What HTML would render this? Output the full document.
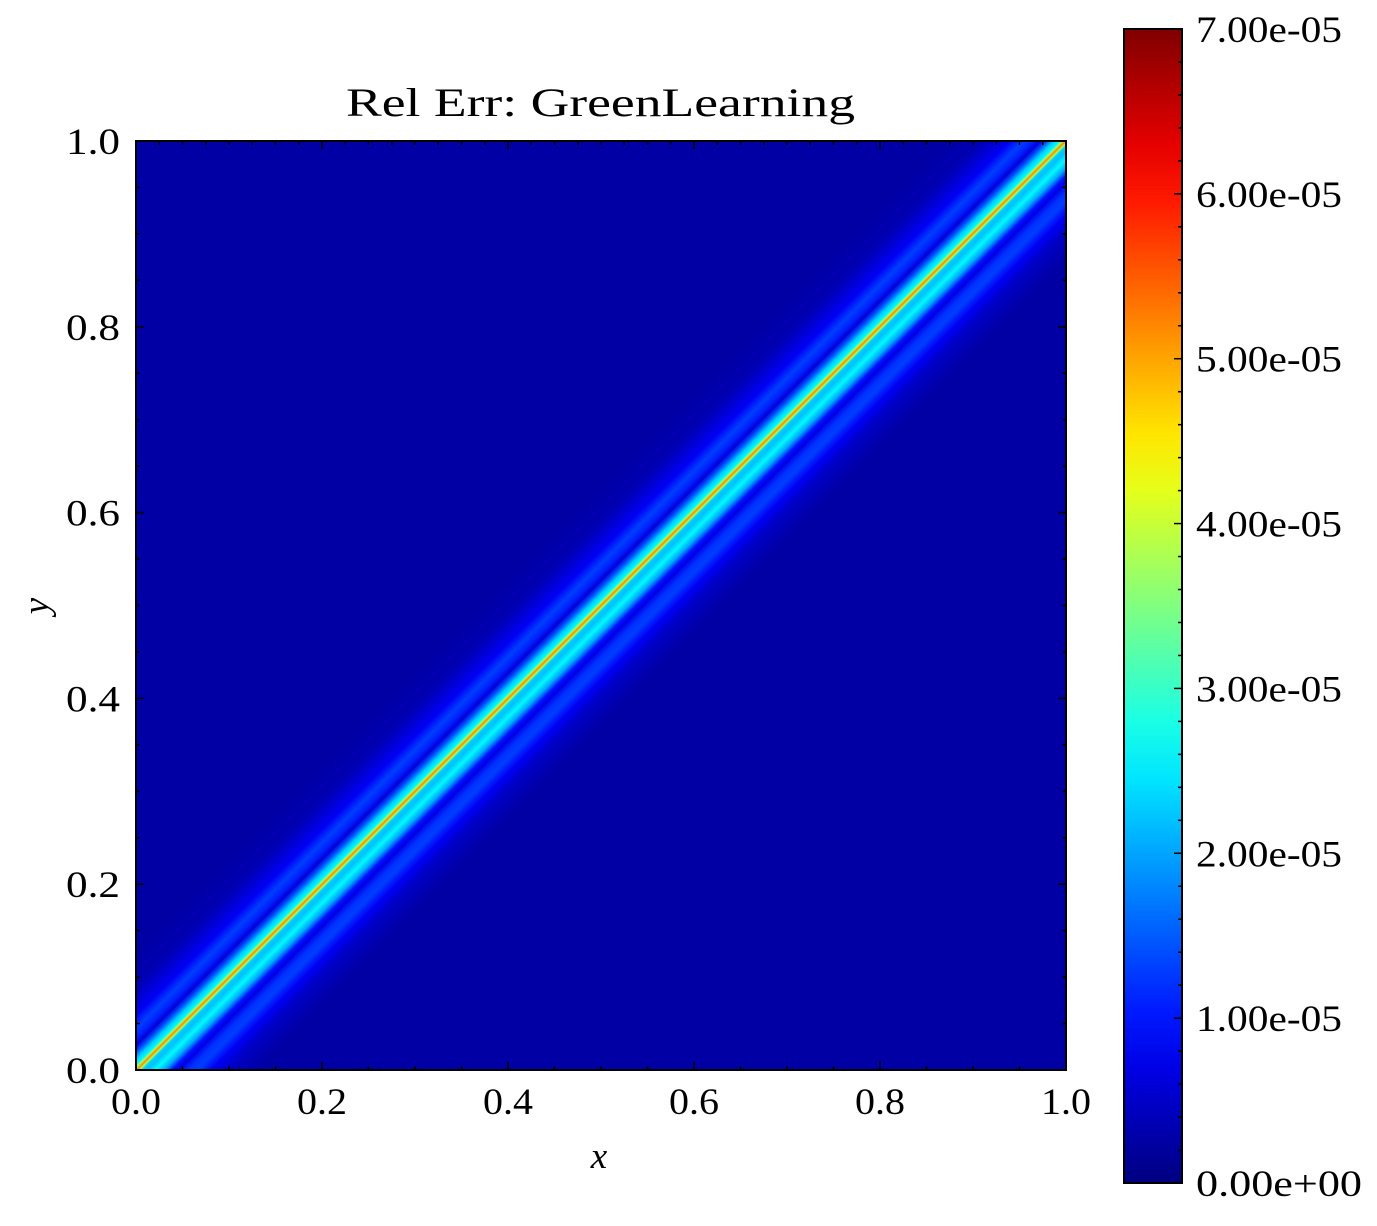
<!DOCTYPE html>
<html><head><meta charset="utf-8"><style>
body{margin:0;background:#fff;}
svg text{font-family:"Liberation Serif",serif;fill:#000;}
</style></head><body>
<svg id="chart" width="1377" height="1221" xmlns="http://www.w3.org/2000/svg">
<defs id="defs"></defs>
<g id="plot"></g>
<g id="cbar"></g>
</svg>
<script>
// band profile: offset (x - y, data units) -> relative error (×1e-5)
const bandOffsets = [-0.13,-0.09,-0.06,-0.045,-0.035,-0.027,-0.02,-0.012,-0.006,-0.003,0,0.003,0.006,0.012,0.02,0.03,0.038,0.045,0.055,0.065,0.08,0.1,0.13];
const bandValues  = [0.25,0.35,0.8,1.3,1.1,0.6,1.4,2.3,2.6,3.8,5.2,3.8,2.3,2.2,2.6,2.0,1.0,0.7,1.2,1.3,0.8,0.45,0.25];
const xTicks = [0,0.2,0.4,0.6,0.8,1.0];
const xTickLabels = ["0.0","0.2","0.4","0.6","0.8","1.0"];
const yTicks = [0,0.2,0.4,0.6,0.8,1.0];
const yTickLabels = ["0.0","0.2","0.4","0.6","0.8","1.0"];
const cbTicks = [0,1,2,3,4,5,6,7];
const cbTickLabels = ["0.00e+00","1.00e-05","2.00e-05","3.00e-05","4.00e-05","5.00e-05","6.00e-05","7.00e-05"];
const vmax = 7;

const NS="http://www.w3.org/2000/svg";
const L=136,R=1066,T=141,B=1070;
const sx=v=>L+v*(R-L), sy=v=>B-v*(B-T);
const CL=1124,CR=1182,CT=29,CB=1183;
const cy=v=>CB-v/vmax*(CB-CT);
function jet(t){t=Math.max(0,Math.min(1,t));
 const c=x=>Math.round(255*Math.max(0,Math.min(1,x)));
 const r=c(1.5-Math.abs(4*t-3)),g=c(1.5-Math.abs(4*t-2)),b=c(1.5-Math.abs(4*t-1));
 return `rgb(${r},${g},${b})`;}
function mk(tag,attrs,parent){const e=document.createElementNS(NS,tag);for(const k in attrs)e.setAttribute(k,attrs[k]);parent.appendChild(e);return e;}
const defs=document.getElementById('defs'),plot=document.getElementById('plot'),cbar=document.getElementById('cbar');

// band gradient perpendicular to diagonal
const o0=bandOffsets[0], o1=bandOffsets[bandOffsets.length-1], span=o1-o0;
const cx=(L+R)/2, cyy=(T+B)/2, k=(R-L)/2;
const g=mk('linearGradient',{id:'band',gradientUnits:'userSpaceOnUse',x1:cx+o0*k,y1:cyy+o0*k,x2:cx+o1*k,y2:cyy+o1*k},defs);
bandOffsets.forEach((o,i)=>{mk('stop',{offset:(o-o0)/span,'stop-color':jet(bandValues[i]/vmax)},g);});
const hm=mk('rect',{x:L,y:T,width:R-L,height:B-T,fill:'url(#band)'},plot);



// axes frame
const fr=mk('rect',{x:L,y:T,width:R-L,height:B-T,fill:'none',stroke:'#000','stroke-width':2},plot);


// ticks
for(let i=0;i<=20;i++){const v=i/20,maj=i%4===0,len=maj?8:4,x=sx(v),y=sy(v);
 mk('line',{x1:x,y1:B,x2:x,y2:B-len,stroke:'#000','stroke-width':1.5},plot);
 mk('line',{x1:L,y1:y,x2:L+len,y2:y,stroke:'#000','stroke-width':1.5},plot);
 mk('line',{x1:R,y1:y,x2:R-len,y2:y,stroke:'#000','stroke-width':1.5},plot);}
for(let i=0;i<=40;i++){const v=i/40,maj=i%8===0,len=maj?8:4,x=sx(v);
 mk('line',{x1:x,y1:T,x2:x,y2:T+len,stroke:'#000','stroke-width':1.5},plot);}
xTicks.forEach((v,i)=>{const t=mk('text',{x:sx(v)-25,y:B+44,'font-size':37,textLength:50,lengthAdjust:'spacingAndGlyphs'},plot);t.textContent=xTickLabels[i];
 
 });
yTicks.forEach((v,i)=>{const t=mk('text',{x:L-70,y:sy(v)+13,'font-size':37,textLength:54,lengthAdjust:'spacingAndGlyphs'},plot);t.textContent=yTickLabels[i];
 
 });
let t=mk('text',{x:599,y:1168,'text-anchor':'middle','font-size':37,'font-style':'italic'},plot);t.textContent='x';


t=mk('text',{x:48,y:606,'text-anchor':'middle','font-size':37,'font-style':'italic',transform:'rotate(-90 48 606)'},plot);t.textContent='y';


t=mk('text',{x:346,y:116,'font-size':40,textLength:509,lengthAdjust:'spacingAndGlyphs'},plot);t.textContent='Rel Err: GreenLearning';



// colorbar
const cg=mk('linearGradient',{id:'cbg',x1:0,y1:1,x2:0,y2:0},defs);
for(let i=0;i<=20;i++)mk('stop',{offset:i/20,'stop-color':jet(i/20)},cg);
const cbr=mk('rect',{x:CL,y:CT,width:CR-CL,height:CB-CT,fill:'url(#cbg)',stroke:'#000','stroke-width':2},cbar);


for(let i=0;i<=35;i++){const v=i/5,y=cy(v),len=i%5===0?8:4;
 mk('line',{x1:CR,y1:y,x2:CR-len,y2:y,stroke:'#000','stroke-width':1.5},cbar);}
cbTicks.forEach((v,i)=>{const tt=mk('text',{x:1196,y:cy(v)+13,'font-size':37,textLength:i===0?166:146,lengthAdjust:'spacingAndGlyphs'},cbar);tt.textContent=cbTickLabels[i];
 
 });
</script>
</body></html>
